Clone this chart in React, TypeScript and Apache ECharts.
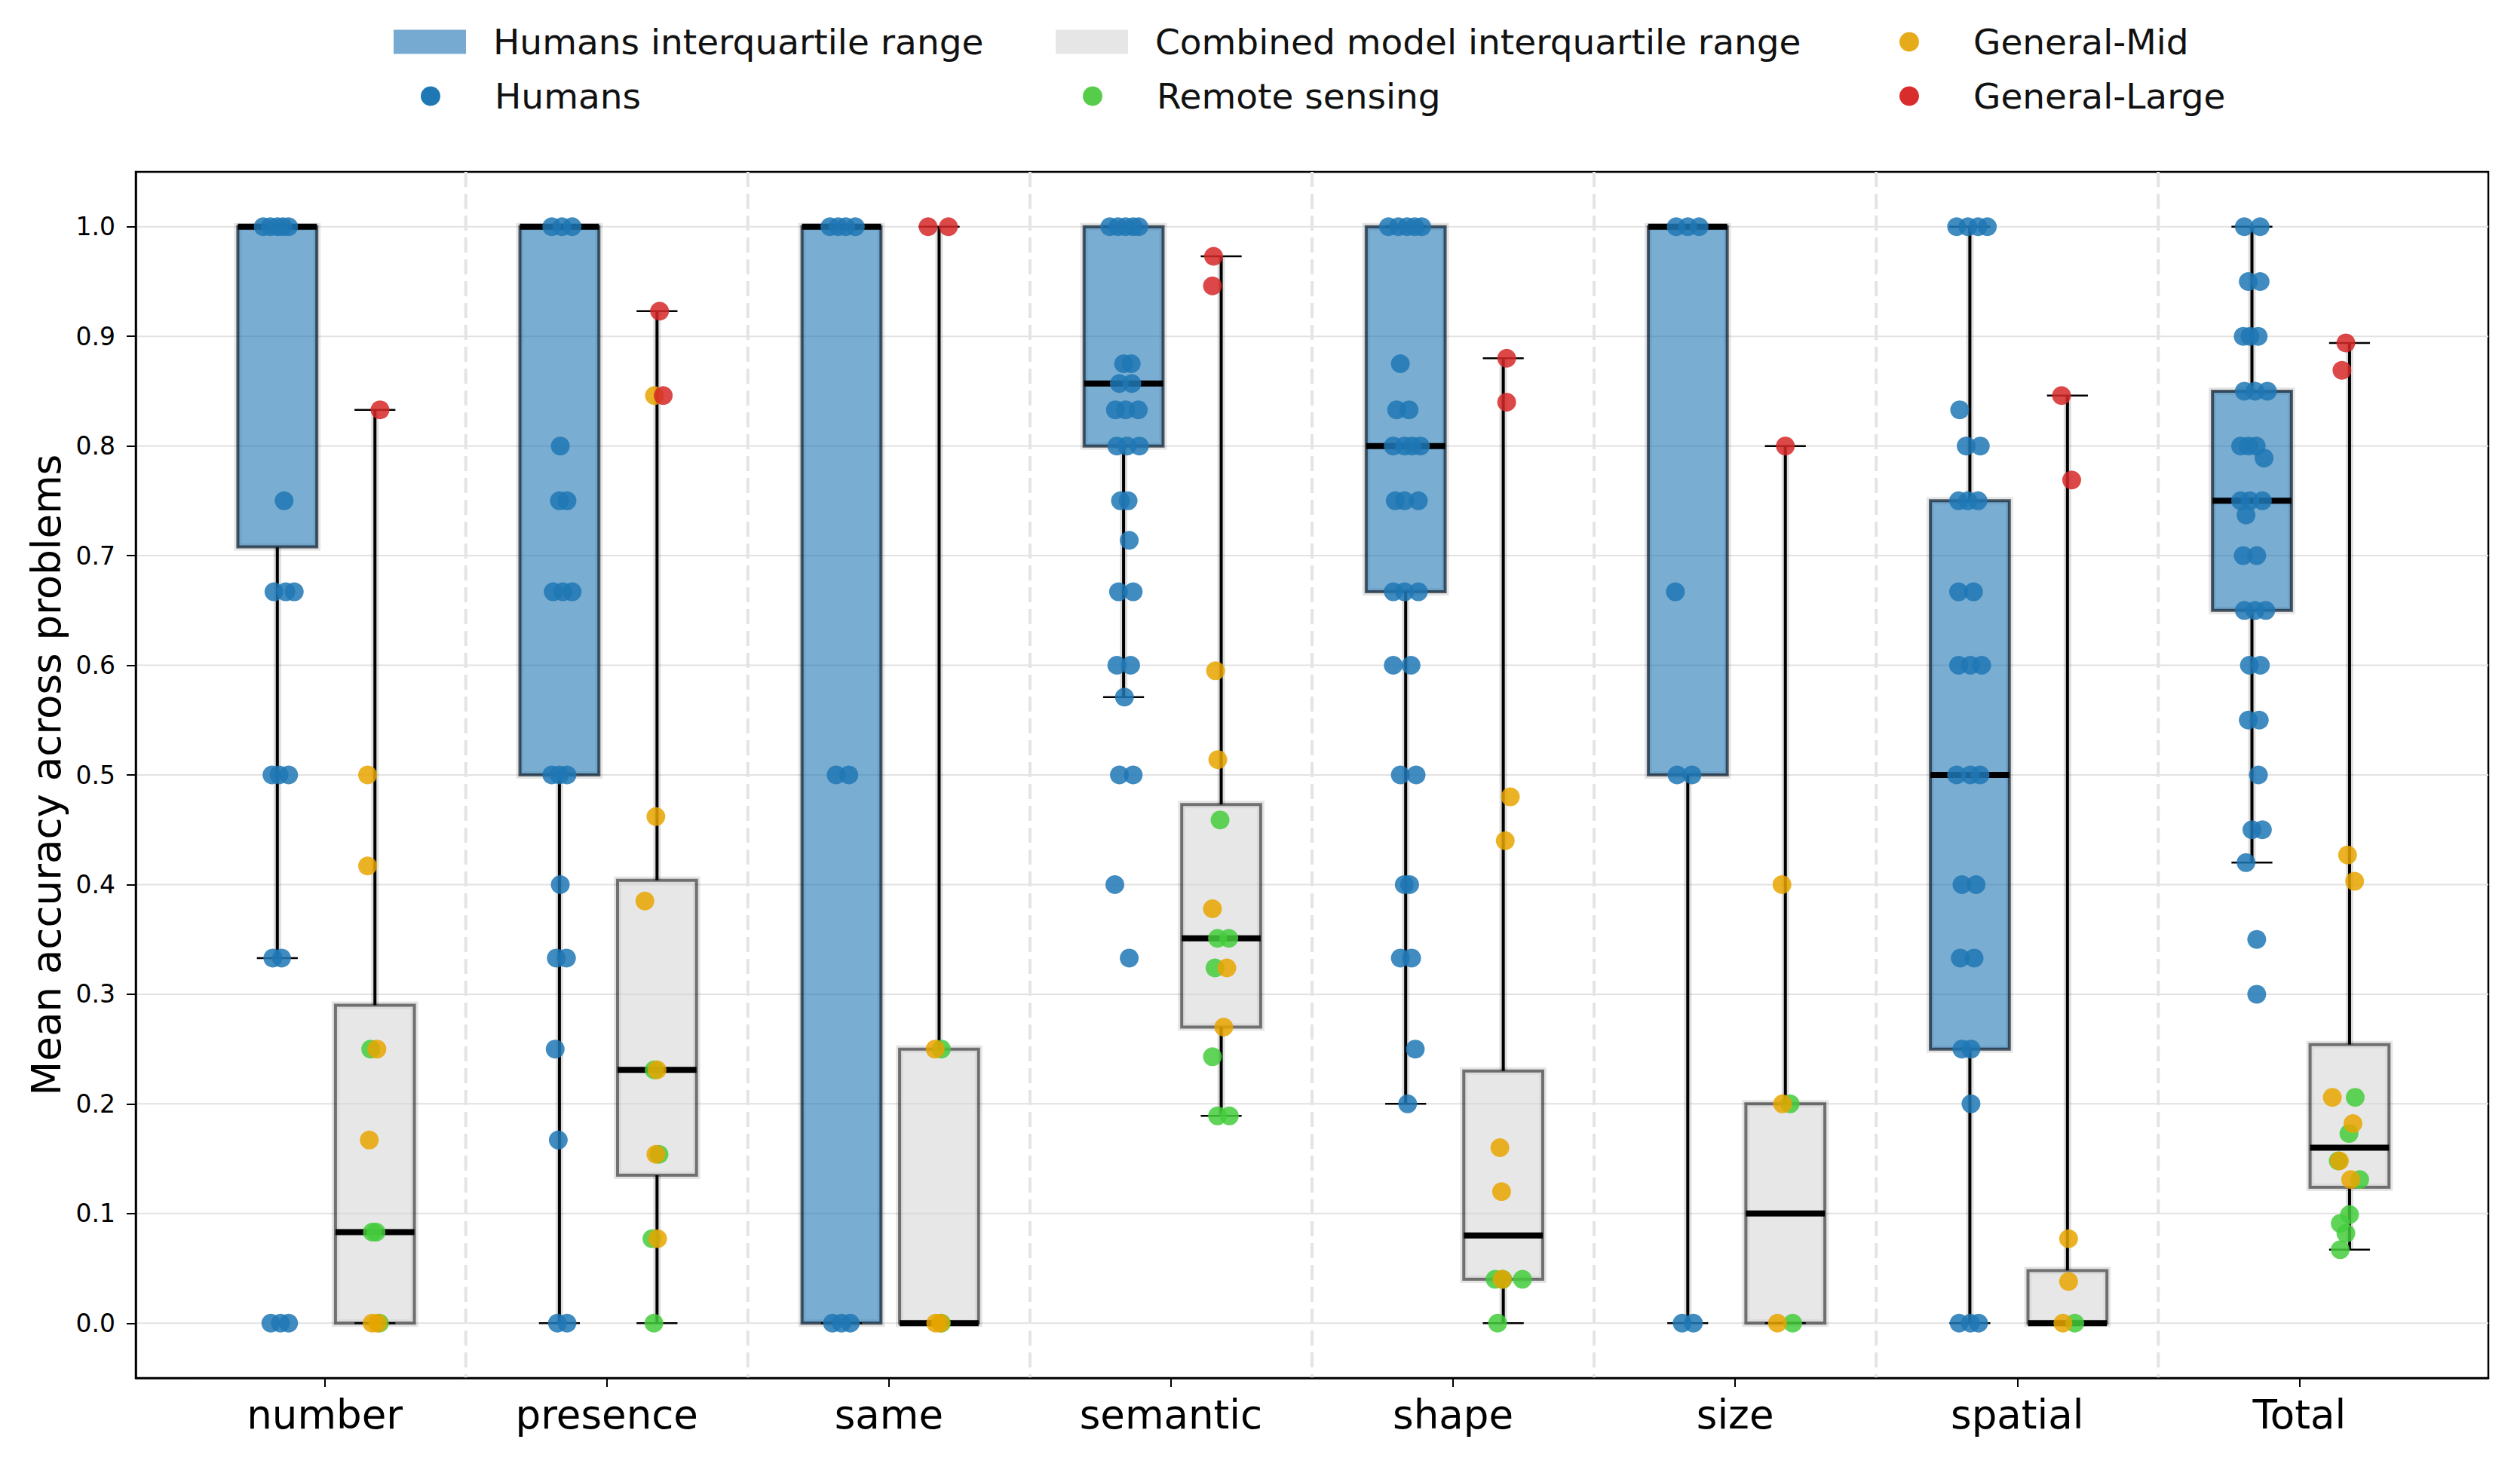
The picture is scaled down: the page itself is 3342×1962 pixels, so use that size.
import React, { useEffect, useRef } from "react";
import * as echarts from "echarts";

const categories = ["number", "presence", "same", "semantic", "shape", "size", "spatial", "Total"];
const yTicks = [0, 0.1, 0.2, 0.3, 0.4, 0.5, 0.6, 0.7, 0.8, 0.9, 1.0];

// [lower whisker, Q1, median, Q3, upper whisker]
const humansStats = [
  [0.333, 0.708, 1.0, 1.0, 1.0],
  [0, 0.5, 1.0, 1.0, 1.0],
  [0, 0, 1.0, 1.0, 1.0],
  [0.571, 0.8, 0.857, 1.0, 1.0],
  [0.2, 0.667, 0.8, 1.0, 1.0],
  [0, 0.5, 1.0, 1.0, 1.0],
  [0, 0.25, 0.5, 0.75, 1.0],
  [0.42, 0.65, 0.75, 0.85, 1.0],
];
const modelStats = [
  [0, 0, 0.083, 0.29, 0.833],
  [0, 0.135, 0.231, 0.404, 0.923],
  [0, 0, 0, 0.25, 1.0],
  [0.189, 0.27, 0.351, 0.473, 0.973],
  [0, 0.04, 0.08, 0.23, 0.88],
  [0, 0, 0.1, 0.2, 0.8],
  [0, 0, 0, 0.048, 0.846],
  [0.067, 0.124, 0.16, 0.254, 0.894],
];

// points per category: [value, horizontal jitter]
const humansPoints = [
  [[1,-0.05],[1,-0.025],[1,0],[1,0.02],[1,0.04],[0.75,0.024],[0.667,-0.012],[0.667,0.03],[0.667,0.06],[0.5,-0.019],[0.5,0.006],[0.5,0.04],[0.333,-0.016],[0.333,0.015],[0,-0.023],[0,0.011],[0,0.04]],
  [[1,-0.027],[1,0.009],[1,0.045],[0.8,0.003],[0.75,0],[0.75,0.027],[0.667,-0.022],[0.667,0.012],[0.667,0.045],[0.5,-0.027],[0.5,0],[0.5,0.027],[0.4,0.003],[0.333,-0.011],[0.333,0.025],[0.25,-0.015],[0.167,-0.004],[0,-0.007],[0,0.027]],
  [[1,-0.041],[1,-0.012],[1,0.015],[1,0.049],[0.5,-0.019],[0.5,0.026],[0,-0.032],[0,0],[0,0.031]],
  [[1,-0.049],[1,-0.02],[1,0.007],[1,0.034],[1,0.054],[0.875,0],[0.875,0.027],[0.857,-0.015],[0.857,0.029],[0.833,-0.029],[0.833,0.007],[0.833,0.052],[0.8,-0.024],[0.8,0.012],[0.8,0.056],[0.75,-0.011],[0.75,0.016],[0.714,0.02],[0.667,-0.018],[0.667,0.034],[0.6,-0.024],[0.6,0.025],[0.571,0.003],[0.5,-0.015],[0.5,0.034],[0.4,-0.031],[0.333,0.02]],
  [[1,-0.061],[1,-0.026],[1,0.005],[1,0.032],[1,0.057],[0.875,-0.019],[0.833,-0.032],[0.833,0.012],[0.8,-0.044],[0.8,-0.004],[0.8,0.023],[0.8,0.052],[0.75,-0.037],[0.75,-0.004],[0.75,0.045],[0.667,-0.044],[0.667,-0.004],[0.667,0.045],[0.6,-0.044],[0.6,0.019],[0.5,-0.019],[0.5,0.037],[0.4,-0.005],[0.4,0.014],[0.333,-0.019],[0.333,0.021],[0.25,0.034],[0.2,0.007]],
  [[1,-0.041],[1,0],[1,0.04],[0.667,-0.044],[0.5,-0.038],[0.5,0.015],[0,-0.02],[0,0.02]],
  [[1,-0.047],[1,-0.007],[1,0.029],[1,0.062],[0.833,-0.036],[0.8,-0.013],[0.8,0.037],[0.75,-0.04],[0.75,-0.007],[0.75,0.029],[0.667,-0.04],[0.667,0.013],[0.6,-0.04],[0.6,0.002],[0.6,0.042],[0.5,-0.047],[0.5,0.002],[0.5,0.036],[0.4,-0.028],[0.4,0.022],[0.333,-0.034],[0.333,0.015],[0.25,-0.028],[0.25,0.004],[0.2,0.004],[0,-0.038],[0,0.002],[0,0.031]],
  [[1,-0.027],[1,0.029],[0.95,-0.013],[0.95,0.029],[0.9,-0.031],[0.9,-0.007],[0.9,0.022],[0.85,-0.027],[0.85,0.011],[0.85,0.055],[0.8,-0.04],[0.8,-0.012],[0.8,0.015],[0.789,0.043],[0.75,-0.04],[0.75,-0.007],[0.75,0.037],[0.737,-0.021],[0.7,-0.031],[0.7,0.017],[0.65,-0.027],[0.65,0.011],[0.65,0.049],[0.6,-0.009],[0.6,0.03],[0.55,-0.013],[0.55,0.026],[0.5,0.023],[0.45,0],[0.45,0.037],[0.42,-0.021],[0.35,0.017],[0.3,0.017]],
];
const remotePoints = [
  [[0.25,-0.015],[0.083,-0.009],[0.083,0.004],[0,0.016]],
  [[0.231,-0.01],[0.154,0.007],[0.077,-0.018],[0,-0.011]],
  [[0.25,0.008],[0,0.008]],
  [[0.459,-0.004],[0.351,-0.013],[0.351,0.027],[0.324,-0.022],[0.243,-0.031],[0.189,-0.013],[0.189,0.029]],
  [[0.04,-0.029],[0.04,-0.002],[0.04,0.068],[0,-0.02]],
  [[0.2,0.017],[0,0.026]],
  [[0,0.026]],
  [[0.206,0.02],[0.173,-0.002],[0.148,-0.04],[0.131,0.036],[0.099,0],[0.091,-0.033],[0.082,-0.013],[0.067,-0.033]],
];
const midPoints = [
  [[0.5,-0.026],[0.417,-0.026],[0.25,0.007],[0.167,-0.02],[0,-0.01],[0,0.01]],
  [[0.846,-0.009],[0.462,-0.004],[0.385,-0.043],[0.231,0],[0.154,-0.004],[0.077,0.002]],
  [[0.25,-0.014],[0,-0.012],[0,0.005]],
  [[0.595,-0.02],[0.514,-0.012],[0.378,-0.031],[0.324,0.02],[0.27,0.009]],
  [[0.48,0.025],[0.44,0.007],[0.16,-0.012],[0.12,-0.006],[0.04,-0.004]],
  [[0.4,-0.012],[0.2,-0.01],[0,-0.028]],
  [[0.077,0.004],[0.038,0.004],[0,-0.016]],
  [[0.427,-0.007],[0.403,0.018],[0.206,-0.061],[0.182,0.012],[0.148,-0.036],[0.131,0.004]],
];
const largePoints = [
  [[0.833,0.018]],
  [[0.923,0.009],[0.846,0.022]],
  [[1,-0.039],[1,0.033]],
  [[0.973,-0.027],[0.946,-0.031]],
  [[0.88,0.012],[0.84,0.012]],
  [[0.8,0]],
  [[0.846,-0.021],[0.769,0.015]],
  [[0.894,-0.013],[0.869,-0.027]],
];

const FONT = "DejaVu Sans";
const H_OFF = -0.168;
const M_OFF = 0.178;
const BOX_W = 0.28;
const CAP_W = 0.145;
const X_MIN = -0.67;
const X_MAX = 7.67;
const DOT = 25;

const C_HUMAN = "#1f77b4";
const C_REMOTE = "#44cc3c";
const C_MID = "#e8a400";
const C_LARGE = "#d62728";

function flatten(points: number[][][], off: number) {
  const out: number[][] = [];
  points.forEach((list, i) => list.forEach(([v, d]) => out.push([i + off + d, v])));
  return out;
}

function boxRender(off: number, fill: string, edge: string) {
  return (params: any, api: any) => {
    const i = api.value(0);
    const low = api.value(1), q1 = api.value(2), med = api.value(3), q3 = api.value(4), high = api.value(5);
    const cx = i + off;
    const p = (x: number, y: number) => api.coord([x, y]);
    const xl = p(cx - BOX_W / 2, 0)[0];
    const xr = p(cx + BOX_W / 2, 0)[0];
    const xc = p(cx, 0)[0];
    const cl = p(cx - CAP_W / 2, 0)[0];
    const cr = p(cx + CAP_W / 2, 0)[0];
    const yLow = p(cx, low)[1], yQ1 = p(cx, q1)[1], yMed = p(cx, med)[1], yQ3 = p(cx, q3)[1], yHigh = p(cx, high)[1];
    const children: any[] = [];
    const halo = "rgba(0,0,0,0.13)";
    if (yHigh < yQ3) {
      children.push({ type: "line", shape: { x1: xc, y1: yQ3, x2: xc, y2: yHigh }, style: { stroke: halo, lineWidth: 10 } });
      children.push({ type: "line", shape: { x1: xc, y1: yQ3, x2: xc, y2: yHigh }, style: { stroke: "#000", lineWidth: 4 } });
    }
    if (yLow > yQ1) {
      children.push({ type: "line", shape: { x1: xc, y1: yQ1, x2: xc, y2: yLow }, style: { stroke: halo, lineWidth: 10 } });
      children.push({ type: "line", shape: { x1: xc, y1: yQ1, x2: xc, y2: yLow }, style: { stroke: "#000", lineWidth: 4 } });
    }
    children.push({ type: "rect", shape: { x: xl, y: yQ3, width: xr - xl, height: yQ1 - yQ3 }, style: { fill: "none", stroke: "rgba(0,0,0,0.1)", lineWidth: 10 } });
    children.push({ type: "rect", shape: { x: xl, y: yQ3, width: xr - xl, height: yQ1 - yQ3 }, style: { fill, stroke: edge, lineWidth: 4 } });
    children.push({ type: "line", shape: { x1: cl, y1: yHigh, x2: cr, y2: yHigh }, style: { stroke: "#000", lineWidth: 2.5 } });
    children.push({ type: "line", shape: { x1: cl, y1: yLow, x2: cr, y2: yLow }, style: { stroke: "#000", lineWidth: 2.5 } });
    children.push({ type: "line", shape: { x1: xl, y1: yMed, x2: xr, y2: yMed }, style: { stroke: "#000", lineWidth: 8 } });
    return { type: "group", children };
  };
}

function legendAt(name: string, left: number, top: number, icon: string, color: string, w: number, h: number, pad: number) {
  return {
    show: true,
    left,
    top,
    padding: 0,
    orient: "horizontal",
    itemWidth: w,
    itemHeight: h,
    selectedMode: false,
    textStyle: { fontFamily: FONT, fontSize: 47, color: "#111", padding: [0, 0, 0, pad] },
    data: [{ name, icon, itemStyle: { color, borderWidth: 0, opacity: 1 } }],
  };
}

export default function App() {
  const ref = useRef<HTMLDivElement>(null);
  useEffect(() => {
    if (!ref.current) return;
    const chart = echarts.init(ref.current, undefined, { renderer: "svg" });
    const humansBoxData = humansStats.map((s, i) => [i, ...s]);
    const modelBoxData = modelStats.map((s, i) => [i, ...s]);
    const option: any = {
      animation: false,
      backgroundColor: "#fff",
      grid: {
        left: 180,
        right: 42,
        top: 228,
        bottom: 134,
        containLabel: false,
        outerBoundsMode: "none",
        show: true,
        borderColor: "#000",
        borderWidth: 2.5,
        backgroundColor: "transparent",
      },
      legend: [
        legendAt("Humans interquartile range", 522, 32, "rect", "#76aad0", 96, 32, 31),
        legendAt("Humans", 558, 104, "circle", C_HUMAN, 26, 26, 67),
        legendAt("Combined model interquartile range", 1400, 32, "rect", "#e6e6e6", 96, 32, 31),
        legendAt("Remote sensing", 1436, 104, "circle", "#55cd4a", 26, 26, 67),
        legendAt("General-Mid", 2519, 32, "circle", "#e6ab1a", 26, 26, 67),
        legendAt("General-Large", 2519, 104, "circle", "#d92c2c", 26, 26, 67),
      ],
      xAxis: {
        type: "value",
        min: X_MIN,
        max: X_MAX,
        axisLine: { show: true, onZero: false, lineStyle: { color: "#000", width: 2.5 } },
        axisTick: { show: true, length: 12, lineStyle: { color: "#000", width: 2 }, customValues: categories.map((_, i) => i) },
        axisLabel: {
          show: true,
          customValues: categories.map((_, i) => i),
          formatter: (v: number) => categories[Math.round(v)] ?? "",
          fontFamily: FONT,
          fontSize: 53,
          color: "#000",
          margin: 22,
        },
        splitLine: { show: false },
      },
      yAxis: {
        type: "value",
        min: -0.05,
        max: 1.05,
        name: "Mean accuracy across problems",
        nameLocation: "middle",
        nameGap: 92,
        nameTextStyle: { fontFamily: FONT, fontSize: 53, color: "#000" },
        axisLine: { show: true, onZero: false, lineStyle: { color: "#000", width: 2.5 } },
        axisTick: { show: true, length: 12, lineStyle: { color: "#000", width: 2 }, customValues: yTicks },
        axisLabel: {
          show: true,
          customValues: yTicks,
          formatter: (v: number) => v.toFixed(1),
          fontFamily: FONT,
          fontSize: 33,
          color: "#000",
          margin: 27,
        },
        splitLine: { show: false },
      },
      series: [
        {
          type: "custom",
          name: "background",
          z: 0,
          silent: true,
          data: [[0, 0]],
          encode: { x: 0, y: 1 },
          renderItem: (params: any, api: any) => {
            const cs = params.coordSys;
            const children: any[] = [];
            yTicks.forEach((t) => {
              const y = api.coord([0, t])[1];
              children.push({ type: "line", shape: { x1: cs.x, y1: y, x2: cs.x + cs.width, y2: y }, style: { stroke: "#e2e2e2", lineWidth: 2 } });
            });
            for (let i = 0; i < categories.length - 1; i++) {
              const x = api.coord([i + 0.5, 0])[0];
              children.push({ type: "line", shape: { x1: x, y1: cs.y, x2: x, y2: cs.y + cs.height }, style: { stroke: "#e4e4e4", lineWidth: 4, lineDash: [20, 9] } });
            }
            return { type: "group", children };
          },
        },
        {
          type: "custom",
          name: "Humans interquartile range",
          z: 2,
          data: humansBoxData,
          encode: { x: 0, y: [1, 2, 3, 4, 5] },
          itemStyle: { color: "#76aad0" },
          renderItem: boxRender(H_OFF, "rgba(31,119,180,0.6)", "rgba(20,35,50,0.72)"),
        },
        {
          type: "custom",
          name: "Combined model interquartile range",
          z: 2,
          data: modelBoxData,
          encode: { x: 0, y: [1, 2, 3, 4, 5] },
          itemStyle: { color: "#e6e6e6" },
          renderItem: boxRender(M_OFF, "rgba(211,211,211,0.55)", "rgba(0,0,0,0.5)"),
        },
        {
          type: "scatter",
          name: "Humans",
          z: 5,
          symbolSize: DOT,
          data: flatten(humansPoints, H_OFF),
          itemStyle: { color: C_HUMAN, opacity: 0.85 },
        },
        {
          type: "scatter",
          name: "Remote sensing",
          z: 5,
          symbolSize: DOT,
          data: flatten(remotePoints, M_OFF),
          itemStyle: { color: C_REMOTE, opacity: 0.85 },
        },
        {
          type: "scatter",
          name: "General-Mid",
          z: 6,
          symbolSize: DOT,
          data: flatten(midPoints, M_OFF),
          itemStyle: { color: C_MID, opacity: 0.85 },
        },
        {
          type: "scatter",
          name: "General-Large",
          z: 7,
          symbolSize: DOT,
          data: flatten(largePoints, M_OFF),
          itemStyle: { color: C_LARGE, opacity: 0.85 },
        },
      ],
    };
    chart.setOption(option);
    return () => chart.dispose();
  }, []);
  return <div ref={ref} style={{ position: "absolute", left: 0, top: 0, width: 3342, height: 1962 }} />;
}
